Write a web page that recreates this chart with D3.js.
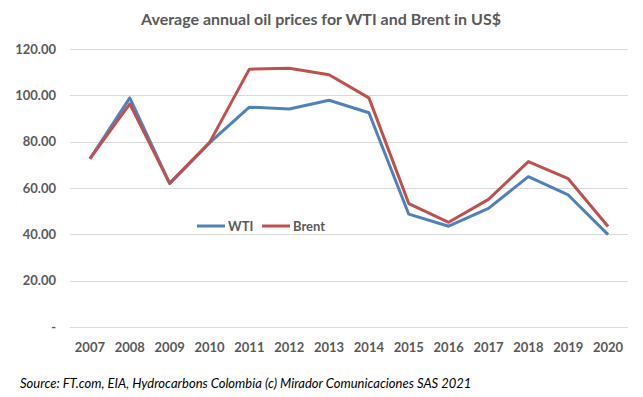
<!DOCTYPE html>
<html>
<head>
<meta charset="utf-8">
<script src="https://cdn.jsdelivr.net/npm/d3@7"></script>
<style>
  body { margin: 0; background: #fff; }
  text { font-family: Lato, "Open Sans", sans-serif; }
</style>
</head>
<body>
<div id="chart"></div>
<script>
// Chart data
var years = ["2007", "2008", "2009", "2010", "2011", "2012", "2013", "2014",
             "2015", "2016", "2017", "2018", "2019", "2020"];
var wti   = [72.6, 98.9, 62.0, 79.5, 94.9, 94.1, 97.9, 92.5, 48.7, 43.5, 51.2, 64.9, 57.0, 39.9];
var brent = [72.7, 96.3, 62.0, 79.6, 111.3, 111.7, 108.9, 98.9, 53.3, 45.2, 55.1, 71.4, 64.0, 43.4];
var yTicks = [0, 20, 40, 60, 80, 100, 120];

var width = 643, height = 397;
var m = { top: 49, right: 15, bottom: 70, left: 70 };

var svg = d3.select("#chart").append("svg")
    .attr("width", width)
    .attr("height", height);

var x = d3.scalePoint()
    .domain(years)
    .range([m.left, width - m.right])
    .padding(0.5);

var y = d3.scaleLinear()
    .domain([0, 120])
    .range([height - m.bottom - 0, m.top]);

// Gridlines
svg.append("g")
  .selectAll("line")
  .data(yTicks)
  .enter().append("line")
    .attr("x1", m.left)
    .attr("x2", width - m.right)
    .attr("y1", function(d) { return Math.round(y(d)) + 0.5; })
    .attr("y2", function(d) { return Math.round(y(d)) + 0.5; })
    .style("stroke", "#d9d9d9")
    .style("stroke-width", 1);

// Y tick labels
svg.append("g")
  .selectAll("text")
  .data(yTicks)
  .enter().append("text")
    .attr("x", 56)
    .attr("y", function(d) { return y(d); })
    .attr("dy", "0.35em")
    .attr("text-anchor", "end")
    .style("font-size", "13px")
    .style("font-weight", "bold")
    .style("fill", "#595959")
    .text(function(d) { return d === 0 ? "-" : d3.format(".2f")(d); });

// X tick labels
svg.append("g")
  .selectAll("text")
  .data(years)
  .enter().append("text")
    .attr("x", function(d) { return x(d); })
    .attr("y", 352)
    .attr("text-anchor", "middle")
    .style("font-size", "13px")
    .style("font-weight", "bold")
    .style("fill", "#595959")
    .text(function(d) { return d; });

var line = d3.line()
    .x(function(d, i) { return x(years[i]); })
    .y(function(d) { return y(d); });

var series = [
  { name: "WTI", values: wti, color: "#4f81bd" },
  { name: "Brent", values: brent, color: "#c0504d" }
];

series.forEach(function(s) {
  svg.append("path")
      .datum(s.values)
      .attr("d", line)
      .style("fill", "none")
      .style("stroke", s.color)
      .style("stroke-width", 3)
      .style("stroke-linejoin", "round");
});

// Legend
var legend = svg.append("g").attr("transform", "translate(197,226)");
var lx = [0, 65];
series.forEach(function(s, i) {
  legend.append("line")
      .attr("x1", lx[i]).attr("x2", lx[i] + 28)
      .attr("y1", 0).attr("y2", 0)
      .style("stroke", s.color)
      .style("stroke-width", 3);
  legend.append("text")
      .attr("x", lx[i] + 31)
      .attr("y", 0)
      .attr("dy", "0.35em")
      .style("font-size", "13px")
      .style("font-weight", "bold")
      .style("fill", "#595959")
      .text(s.name);
});

// Title
svg.append("text")
    .attr("x", 321)
    .attr("y", 25)
    .attr("text-anchor", "middle")
    .style("font-size", "16px")
    .style("font-weight", "bold")
    .style("fill", "#595959")
    .text("Average annual oil prices for WTI and Brent in US$");

// Source
svg.append("text")
    .attr("x", 20)
    .attr("y", 388)
    .style("font-size", "13px")
    .style("font-style", "italic")
    .style("fill", "#000")
    .text("Source:  FT.com, EIA, Hydrocarbons Colombia (c) Mirador Comunicaciones SAS 2021");
</script>
</body>
</html>
